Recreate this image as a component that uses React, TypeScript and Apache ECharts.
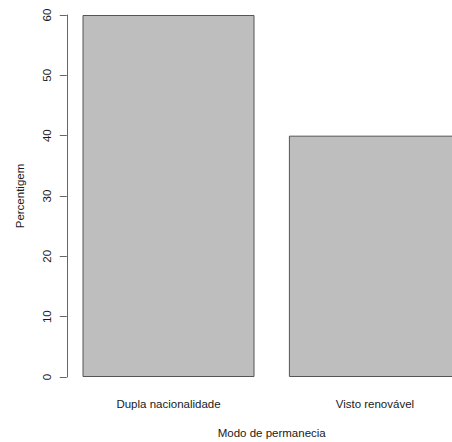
import React, { useEffect, useRef } from "react";
import * as echarts from "echarts";

const categories = ["Dupla nacionalidade", "Visto renovável"];
const values = [60, 40];
const yTicks = [0, 10, 20, 30, 40, 50, 60];
const xTitle = "Modo de permanecia";
const yTitle = "Percentigem";

const FONT = "Liberation Sans";

export default function App() {
  const ref = useRef<HTMLDivElement>(null);
  useEffect(() => {
    if (!ref.current) return;
    const chart = echarts.init(ref.current, undefined, { renderer: "svg" });
    chart.setOption({
      animation: false,
      backgroundColor: "#ffffff",
      grid: { left: 65.3, top: 15, width: 412.8, height: 362, containLabel: false, outerBoundsMode: "none" },
      xAxis: {
        type: "category",
        data: categories,
        boundaryGap: true,
        axisLine: { show: false },
        axisTick: { show: false },
        axisLabel: { margin: 21, fontSize: 11.5, fontFamily: FONT, color: "#1a1a1a", interval: 0 },
        name: xTitle,
        nameLocation: "middle",
        nameGap: 50,
        nameTextStyle: { fontSize: 11.5, fontFamily: FONT, color: "#1a1a1a" },
      },
      yAxis: {
        type: "value",
        min: yTicks[0],
        max: yTicks[yTicks.length - 1],
        interval: 10,
        offset: -1.5,
        splitLine: { show: false },
        axisLine: { show: true, lineStyle: { color: "#666", width: 1 } },
        axisTick: { show: true, length: 7, lineStyle: { color: "#666", width: 1 } },
        axisLabel: { rotate: 90, margin: 14, fontSize: 11.5, fontFamily: FONT, color: "#1a1a1a" },
        name: yTitle,
        nameLocation: "middle",
        nameRotate: 90,
        nameGap: 41,
        nameTextStyle: { fontSize: 11.5, fontFamily: FONT, color: "#1a1a1a" },
      },
      series: [
        {
          type: "bar",
          data: values,
          barWidth: 172,
          itemStyle: { color: "#bebebe", borderColor: "#555", borderWidth: 1 },
        },
      ],
    });
    return () => chart.dispose();
  }, []);
  return (
    <div
      ref={ref}
      style={{ position: "fixed", left: 0, top: 0, width: 452, height: 442 }}
    />
  );
}
